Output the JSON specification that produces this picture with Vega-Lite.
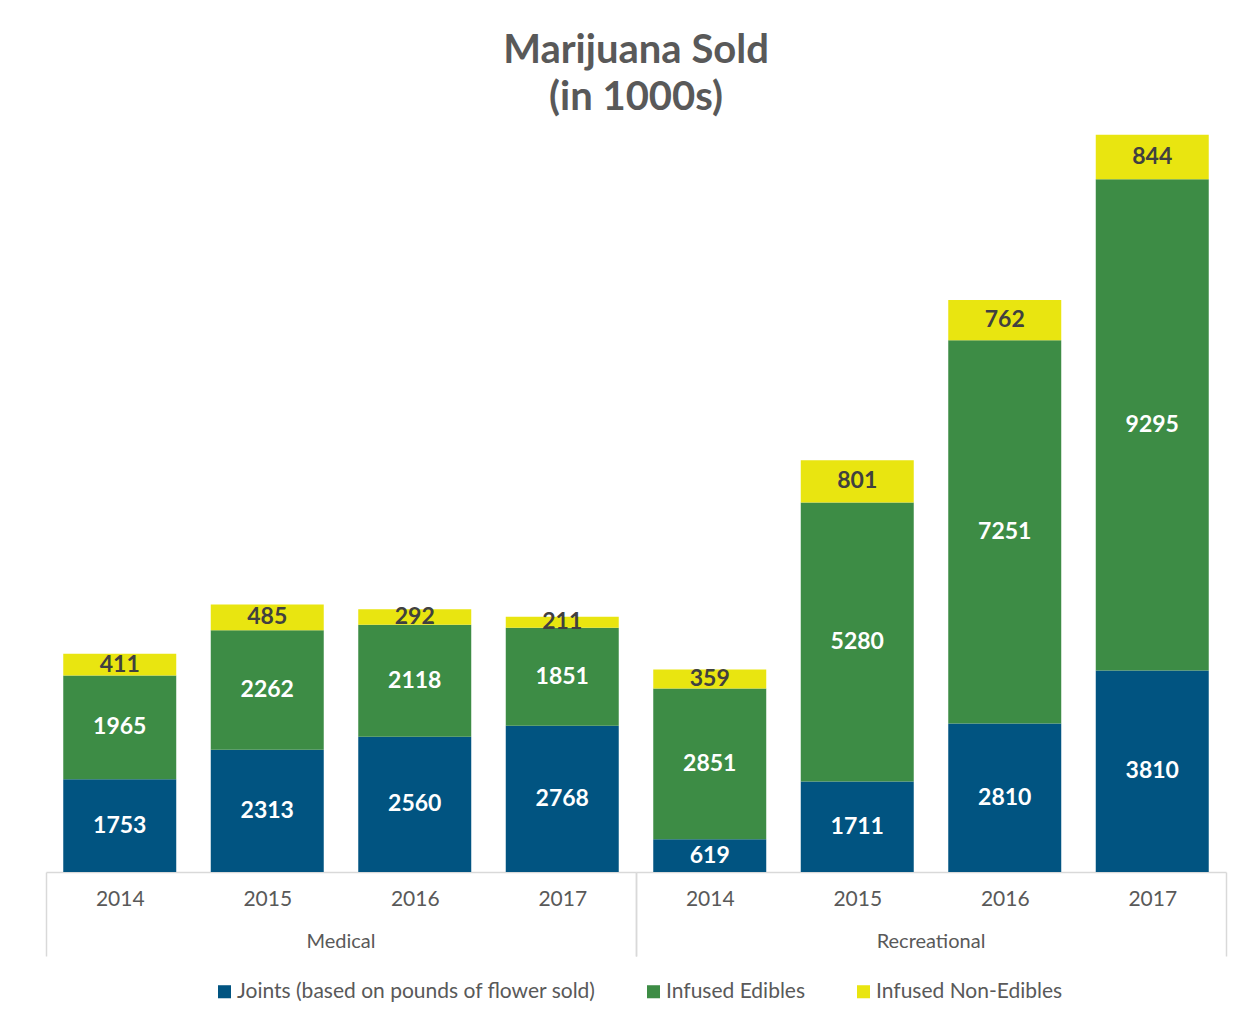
{
  "$schema": "https://vega.github.io/schema/vega-lite/v6.json",
  "background": "white",
  "padding": {"left": 45, "top": 31, "right": 35, "bottom": 10},
  "title": {
    "text": ["Marijuana Sold", "(in 1000s)"],
    "font": "Lato",
    "fontSize": 40,
    "fontWeight": "bold",
    "color": "#595959",
    "lineHeight": 47,
    "anchor": "middle",
    "offset": 14
  },
  "data": {
    "values": [
      {"group": "Medical", "year": 2014, "type": "Joints (based on pounds of flower sold)", "value": 1753},
      {"group": "Medical", "year": 2014, "type": "Infused Edibles", "value": 1965},
      {"group": "Medical", "year": 2014, "type": "Infused Non-Edibles", "value": 411},
      {"group": "Medical", "year": 2015, "type": "Joints (based on pounds of flower sold)", "value": 2313},
      {"group": "Medical", "year": 2015, "type": "Infused Edibles", "value": 2262},
      {"group": "Medical", "year": 2015, "type": "Infused Non-Edibles", "value": 485},
      {"group": "Medical", "year": 2016, "type": "Joints (based on pounds of flower sold)", "value": 2560},
      {"group": "Medical", "year": 2016, "type": "Infused Edibles", "value": 2118},
      {"group": "Medical", "year": 2016, "type": "Infused Non-Edibles", "value": 292},
      {"group": "Medical", "year": 2017, "type": "Joints (based on pounds of flower sold)", "value": 2768},
      {"group": "Medical", "year": 2017, "type": "Infused Edibles", "value": 1851},
      {"group": "Medical", "year": 2017, "type": "Infused Non-Edibles", "value": 211},
      {"group": "Recreational", "year": 2014, "type": "Joints (based on pounds of flower sold)", "value": 619},
      {"group": "Recreational", "year": 2014, "type": "Infused Edibles", "value": 2851},
      {"group": "Recreational", "year": 2014, "type": "Infused Non-Edibles", "value": 359},
      {"group": "Recreational", "year": 2015, "type": "Joints (based on pounds of flower sold)", "value": 1711},
      {"group": "Recreational", "year": 2015, "type": "Infused Edibles", "value": 5280},
      {"group": "Recreational", "year": 2015, "type": "Infused Non-Edibles", "value": 801},
      {"group": "Recreational", "year": 2016, "type": "Joints (based on pounds of flower sold)", "value": 2810},
      {"group": "Recreational", "year": 2016, "type": "Infused Edibles", "value": 7251},
      {"group": "Recreational", "year": 2016, "type": "Infused Non-Edibles", "value": 762},
      {"group": "Recreational", "year": 2017, "type": "Joints (based on pounds of flower sold)", "value": 3810},
      {"group": "Recreational", "year": 2017, "type": "Infused Edibles", "value": 9295},
      {"group": "Recreational", "year": 2017, "type": "Infused Non-Edibles", "value": 844}
    ]
  },
  "transform": [
    {"calculate": "indexof(['Joints (based on pounds of flower sold)','Infused Edibles','Infused Non-Edibles'], datum.type)", "as": "ord"},
    {"stack": "value", "groupby": ["group", "year"], "sort": [{"field": "ord", "order": "ascending"}], "as": ["v0", "v1"]},
    {"calculate": "(datum.v0 + datum.v1) / 2", "as": "mid"}
  ],
  "facet": {
    "column": {
      "field": "group",
      "type": "nominal",
      "title": null,
      "header": {
        "labelOrient": "bottom",
        "labelFont": "Lato",
        "labelFontSize": 20,
        "labelColor": "#595959",
        "labelPadding": -25
      }
    }
  },
  "spacing": 0,
  "spec": {
    "width": 590,
    "height": 740,
    "layer": [
      {
        "mark": {"type": "bar", "width": {"band": 0.766}},
        "encoding": {
          "x": {
            "field": "year",
            "type": "ordinal",
            "title": null,
            "scale": {"paddingInner": 0, "paddingOuter": 0},
            "axis": {
              "labelAngle": 0,
              "labelFont": "Lato",
              "labelFontSize": 21,
              "labelColor": "#595959",
              "labelPadding": -68,
              "domainColor": "#D9D9D9",
              "domainWidth": 1.5,
              "tickBand": "extent",
              "tickSize": 84,
              "tickWidth": 1.5,
              "tickColor": {"condition": {"test": "datum.extra || datum.value == 2017", "value": "#D9D9D9"}, "value": "rgba(0,0,0,0)"}
            }
          },
          "y": {"field": "v0", "type": "quantitative", "scale": {"domain": [0, 14000], "nice": false}, "axis": null},
          "y2": {"field": "v1"},
          "color": {
            "field": "type",
            "type": "nominal",
            "sort": ["Joints (based on pounds of flower sold)", "Infused Edibles", "Infused Non-Edibles"],
            "scale": {
              "domain": ["Joints (based on pounds of flower sold)", "Infused Edibles", "Infused Non-Edibles"],
              "range": ["#015481", "#3D8C45", "#E9E510"]
            },
            "legend": {
              "title": null,
              "orient": "none",
              "legendX": 168,
              "legendY": 849,
              "direction": "horizontal",
              "symbolType": "square",
              "symbolSize": 170,
              "symbolStrokeWidth": 0,
              "labelFont": "Lato",
              "labelFontSize": 21,
              "labelColor": "#595959",
              "labelLimit": 0,
              "labelOffset": 2,
              "columnPadding": 47
            }
          }
        }
      },
      {
        "mark": {"type": "text", "font": "Lato", "fontSize": 23, "fontWeight": "bold", "baseline": "middle", "align": "center"},
        "encoding": {
          "x": {"field": "year", "type": "ordinal"},
          "y": {"field": "mid", "type": "quantitative"},
          "text": {"field": "value", "type": "quantitative", "format": "d"},
          "fill": {"condition": {"test": "datum.type === 'Infused Non-Edibles'", "value": "#404040"}, "value": "white"}
        }
      }
    ]
  },
  "config": {"view": {"stroke": null}}
}
